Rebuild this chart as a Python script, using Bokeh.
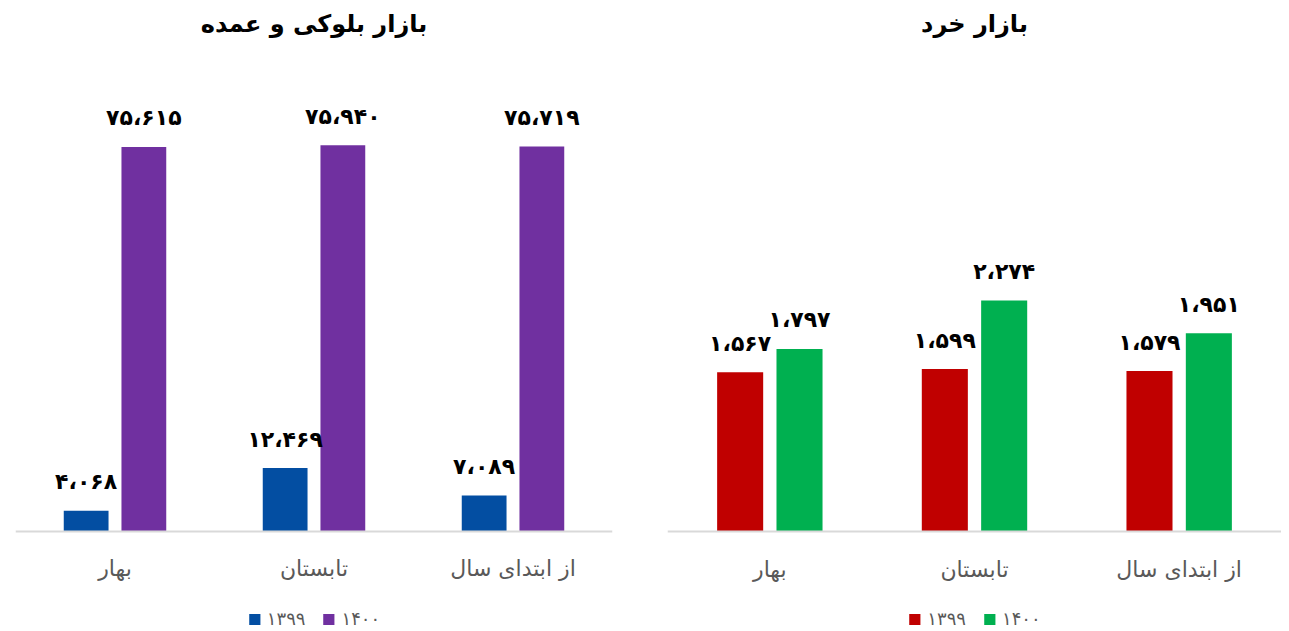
from bokeh.plotting import figure
from bokeh.layouts import row
from bokeh.models import ColumnDataSource, Legend, LegendItem, FactorRange, Range1d, CategoricalAxis
from bokeh.transform import dodge
from bokeh.core.properties import value
from bokeh.embed import file_html
from bokeh.resources import INLINE

categories = ["بهار", "تابستان", "از ابتدای سال"]
years = ["۱۳۹۹", "۱۴۰۰"]
bulk_1399 = [4068, 12469, 7089]
bulk_1400 = [75615, 75940, 75719]
retail_1399 = [1567, 1599, 1579]
retail_1400 = [1797, 2274, 1951]

FA = str.maketrans("0123456789,", "۰۱۲۳۴۵۶۷۸۹،")


def fa(v):
    return f"{v:,}".translate(FA)


FONT = "DejaVu Sans"


def make(title, v1, v2, c1, c2, ymin, ymax, width, mbl, mbr):
    p = figure(x_range=FactorRange(*categories), y_range=Range1d(ymin, ymax),
               width=width, height=630, output_backend="svg", toolbar_location=None,
               title=title, min_border_left=mbl, min_border_right=mbr,
               min_border_top=45, min_border_bottom=0,
               x_axis_location=None, y_axis_location=None)
    p.outline_line_color = None
    p.xgrid.visible = False
    p.ygrid.visible = False
    p.title.align = "center"
    p.title.standoff = 15
    p.title.text_font = FONT
    p.title.text_font_size = "24px"
    p.title.text_font_style = "bold"
    p.title.text_color = "#000000"

    src = ColumnDataSource(dict(cat=categories, a=v1, b=v2,
                                la=[fa(v) for v in v1], lb=[fa(v) for v in v2]))
    r1 = p.vbar(x=dodge("cat", -0.145, range=p.x_range), top="a", width=0.225,
                source=src, color=c1, line_color=None)
    r2 = p.vbar(x=dodge("cat", 0.145, range=p.x_range), top="b", width=0.225,
                source=src, color=c2, line_color=None)
    for ycol, tcol, off in (("a", "la", -0.145), ("b", "lb", 0.145)):
        p.text(x=dodge("cat", off, range=p.x_range), y=ycol,
               text=tcol, source=src, text_align="center", text_baseline="middle",
               y_offset=-29, text_font=value(FONT), text_font_size="22px",
               text_font_style="bold", text_color="#000000")

    ax = CategoricalAxis(fixed_location=0)
    ax.axis_line_color = "#d9d9d9"
    ax.axis_line_width = 2
    ax.major_tick_line_color = None
    ax.minor_tick_line_color = None
    ax.major_tick_out = 0
    ax.major_label_standoff = 25
    ax.major_label_text_font = FONT
    ax.major_label_text_font_size = "22px"
    ax.major_label_text_color = "#595959"
    p.add_layout(ax, "below")

    leg = Legend(items=[LegendItem(label=years[0], renderers=[r1]),
                        LegendItem(label=years[1], renderers=[r2])],
                 orientation="horizontal", location="bottom_center")
    leg.margin = 1
    leg.padding = 0
    leg.spacing = 16
    leg.label_standoff = 6
    leg.glyph_width = 14
    leg.glyph_height = 14
    leg.label_height = 16
    leg.label_text_font = FONT
    leg.label_text_font_size = "18px"
    leg.label_text_color = "#595959"
    leg.background_fill_alpha = 0
    leg.border_line_alpha = 0
    p.add_layout(leg)
    return p


left = make("بازار بلوکی و عمده", bulk_1399, bulk_1400, "#034EA2", "#7030A0",
            -19469, 95575, 648, 15, 36)
right = make("بازار خرد", retail_1399, retail_1400, "#C00000", "#00B050",
             -974, 4783, 633, 19, 0)

layout = row(left, right)
open("out.html", "w").write(file_html(layout, INLINE))
